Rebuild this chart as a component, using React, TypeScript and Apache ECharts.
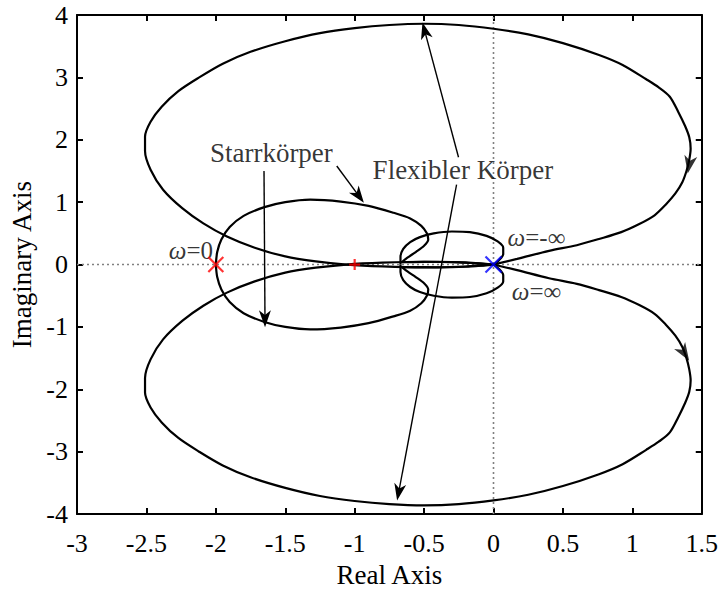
import React, { useEffect, useRef } from "react";
import * as echarts from "echarts";

// Axis ranges and tick steps
const xRange = [-3, 1.5];
const xStep = 0.5;
const yRange = [-4, 4];
const yStep = 1;

// Flexible body: large upper loop (origin -> right -> top -> left -> (-1,0) -> origin)
const flexUpper: [number, number][] = [
  [0, 0], [0.17, 0.09], [0.4, 0.22], [0.6, 0.31], [0.76, 0.41], [0.92, 0.52], [1.05, 0.65],
  [1.16, 0.79], [1.24, 0.96], [1.31, 1.14], [1.36, 1.32], [1.39, 1.5], [1.41, 1.68],
  [1.42, 1.86], [1.41, 2.04], [1.38, 2.22], [1.33, 2.45], [1.27, 2.69], [1.19, 2.84],
  [1.1, 2.97], [0.93, 3.2], [0.76, 3.36], [0.5, 3.55], [0.25, 3.69], [0, 3.78],
  [-0.25, 3.84], [-0.5, 3.86], [-0.75, 3.84], [-1.0, 3.79], [-1.25, 3.71], [-1.5, 3.58],
  [-1.75, 3.41], [-1.95, 3.22], [-2.12, 3.0], [-2.27, 2.78], [-2.39, 2.53], [-2.47, 2.29],
  [-2.51, 2.05], [-2.51, 1.82], [-2.47, 1.52], [-2.38, 1.2], [-2.24, 0.9], [-2.09, 0.66],
  [-1.92, 0.45], [-1.72, 0.27], [-1.5, 0.13], [-1.28, 0.05], [-1.06, 0.0], [-0.8, -0.03],
  [-0.5, -0.045], [-0.25, -0.035], [-0.08, -0.012], [0, 0],
];

// Flexible body: large lower loop
const flexLower: [number, number][] = [
  [0, 0], [0.17, -0.09], [0.4, -0.22], [0.6, -0.31], [0.76, -0.41], [0.92, -0.52], [1.05, -0.65],
  [1.16, -0.79], [1.24, -0.96], [1.31, -1.14], [1.36, -1.32], [1.39, -1.5], [1.41, -1.68],
  [1.42, -1.86], [1.41, -2.04], [1.38, -2.22], [1.33, -2.45], [1.27, -2.69], [1.19, -2.84],
  [1.1, -2.97], [0.93, -3.2], [0.76, -3.36], [0.5, -3.55], [0.25, -3.69], [0, -3.78],
  [-0.25, -3.84], [-0.5, -3.86], [-0.75, -3.84], [-1.0, -3.79], [-1.25, -3.71], [-1.5, -3.58],
  [-1.75, -3.41], [-1.95, -3.22], [-2.12, -3.0], [-2.27, -2.78], [-2.39, -2.53], [-2.47, -2.29],
  [-2.51, -2.05], [-2.51, -1.82], [-2.47, -1.52], [-2.38, -1.2], [-2.24, -0.9], [-2.09, -0.66],
  [-1.92, -0.45], [-1.72, -0.27], [-1.5, -0.13], [-1.28, -0.05], [-1.06, 0.0], [-0.8, 0.03],
  [-0.5, 0.045], [-0.25, 0.035], [-0.08, 0.012], [0, 0],
];

// Flexible body: small inner loop around the origin
const smallUpper: [number, number][] = [
  [-0.67, 0], [-0.67, 0.12], [-0.65, 0.25], [-0.6, 0.36], [-0.53, 0.44], [-0.43, 0.5],
  [-0.3, 0.53], [-0.17, 0.52], [-0.05, 0.46], [0.03, 0.37], [0.07, 0.27], [0.07, 0.17],
  [0.04, 0.07], [0, 0],
];
const smallLower: [number, number][] = [
  [-0.67, 0], [-0.67, -0.12], [-0.65, -0.25], [-0.6, -0.36], [-0.53, -0.44], [-0.43, -0.5],
  [-0.3, -0.53], [-0.17, -0.52], [-0.05, -0.46], [0.03, -0.37], [0.07, -0.27], [0.07, -0.17],
  [0.04, -0.07], [0, 0],
];

// Rigid body: from omega=0 at (-2,0) over the arc, curling in and running to the origin
const rigidUpper: [number, number][] = [
  [-2, 0], [-1.99, 0.2], [-1.96, 0.4], [-1.9, 0.6], [-1.8, 0.78], [-1.65, 0.92], [-1.5, 1.0],
  [-1.32, 1.04], [-1.1, 1.01], [-0.9, 0.94], [-0.72, 0.83], [-0.6, 0.74], [-0.52, 0.62],
  [-0.48, 0.5], [-0.47, 0.4], [-0.5, 0.3], [-0.56, 0.2], [-0.62, 0.11], [-0.66, 0.04],
  [-0.6, 0.04], [-0.4, 0.045], [-0.2, 0.035], [-0.06, 0.012], [0, 0],
];
const rigidLower: [number, number][] = [
  [-2, 0], [-1.99, -0.2], [-1.96, -0.4], [-1.9, -0.6], [-1.8, -0.78], [-1.65, -0.92], [-1.5, -1.0],
  [-1.32, -1.04], [-1.1, -1.01], [-0.9, -0.94], [-0.72, -0.83], [-0.6, -0.74], [-0.52, -0.62],
  [-0.48, -0.5], [-0.47, -0.4], [-0.5, -0.3], [-0.56, -0.2], [-0.62, -0.11], [-0.66, -0.04],
  [-0.6, -0.04], [-0.4, -0.045], [-0.2, -0.035], [-0.06, -0.012], [0, 0],
];

// Direction arrows on the loops: [x, y, rotation in degrees]
const directionArrows: [number, number, number][] = [
  [1.41, 1.6, 170],
  [1.375, -1.42, 212],
];

// Annotation texts: [text, x, y]
const annotationTexts: [string, number, number][] = [
  ["Starrkörper", -1.6, 1.79],
  ["Flexibler Körper", -0.22, 1.52],
];

// Annotation arrows: start and end points
const annotationArrows: [number, number][][] = [
  [[-1.653, 1.5], [-1.646, -0.87]],
  [[-1.129, 1.58], [-0.97, 1.1]],
  [[-0.252, 1.72], [-0.496, 3.75]],
  [[-0.266, 1.28], [-0.683, -3.65]],
];

// Frequency labels: [rich text, x, y, position]
const omegaLabels: [string, number, number, string][] = [
  ["{w|ω}=0", -2.02, 0.22, "left"],
  ["{w|ω}=-∞", 0.31, 0.44, "inside"],
  ["{w|ω}=∞", 0.31, -0.43, "inside"],
];

// Special points
const startPoint: [number, number] = [-2, 0];
const criticalPoint: [number, number] = [-1, 0];
const endPoint: [number, number] = [0, 0];

const FONT = "'Liberation Serif', 'Times New Roman', serif";

export default function App() {
  const ref = useRef<HTMLDivElement>(null);

  useEffect(() => {
    document.body.style.margin = "0";
    if (!ref.current) return;
    const chart = echarts.init(ref.current, undefined, { renderer: "svg" });

    const curve = (data: [number, number][], z = 3) => ({
      type: "line",
      data,
      showSymbol: false,
      smooth: 0.3,
      lineStyle: { color: "#000", width: 2.2 },
      z,
      silent: true,
    });

    const dotted = (data: [number, number][]) => ({
      type: "line",
      data,
      showSymbol: false,
      lineStyle: { color: "#808080", width: 1.6, type: [2, 3] },
      z: 1,
      silent: true,
    });

    const axisCommon = {
      axisLine: { onZero: false, lineStyle: { color: "#000", width: 2 } },
      axisTick: { inside: true, length: 6, lineStyle: { color: "#000", width: 2 } },
      splitLine: { show: false },
    };

    const tickStyle = { color: "#000", fontFamily: FONT, fontSize: 26 };
    const textStyle = { color: "#000", fontFamily: FONT, fontSize: 27 };

    chart.setOption({
      animation: false,
      backgroundColor: "#fff",
      grid: { left: 77, top: 15, right: 18, bottom: 72, containLabel: false },
      xAxis: [
        {
          type: "value",
          min: xRange[0],
          max: xRange[1],
          interval: xStep,
          position: "bottom",
          ...axisCommon,
          axisLabel: { ...tickStyle, margin: 16 },
          name: "Real Axis",
          nameLocation: "middle",
          nameGap: 44,
          nameTextStyle: { ...textStyle },
        },
        {
          type: "value",
          min: xRange[0],
          max: xRange[1],
          interval: xStep,
          position: "top",
          ...axisCommon,
          axisLabel: { show: false },
        },
      ],
      yAxis: [
        {
          type: "value",
          min: yRange[0],
          max: yRange[1],
          interval: yStep,
          position: "left",
          ...axisCommon,
          axisLabel: { ...tickStyle, margin: 9 },
          name: "Imaginary Axis",
          nameLocation: "middle",
          nameGap: 42,
          nameRotate: 90,
          nameTextStyle: { ...textStyle },
        },
        {
          type: "value",
          min: yRange[0],
          max: yRange[1],
          interval: yStep,
          position: "right",
          ...axisCommon,
          axisLabel: { show: false },
        },
      ],
      series: [
        dotted([[xRange[0], 0], [xRange[1], 0]]),
        dotted([[0, yRange[0]], [0, yRange[1]]]),
        curve(flexUpper),
        curve(flexLower),
        curve(smallUpper),
        curve(smallLower),
        curve(rigidUpper),
        curve(rigidLower),
        {
          type: "scatter",
          data: directionArrows.map(([x, y, r]) => ({ value: [x, y], symbolRotate: r })),
          symbol: "path://M0,0L7,18L0,13L-7,18Z",
          symbolSize: [13, 18],
          itemStyle: { color: "#000" },
          z: 4,
          silent: true,
        },
        {
          type: "lines",
          coordinateSystem: "cartesian2d",
          data: annotationArrows.map((c) => ({ coords: c })),
          symbol: ["none", "path://M0,0L7,18L0,13L-7,18Z"],
          symbolSize: [0, [12, 17]],
          lineStyle: { color: "#000", width: 1.4, opacity: 1, curveness: 0 },
          z: 4,
          silent: true,
        },
        {
          type: "scatter",
          data: annotationTexts.map(([t, x, y]) => ({
            value: [x, y],
            label: { formatter: t },
          })),
          symbolSize: 0,
          label: { show: true, position: "inside", ...textStyle },
          z: 6,
          silent: true,
        },
        {
          type: "scatter",
          data: omegaLabels.map(([t, x, y, pos]) => ({
            value: [x, y],
            label: { formatter: t, position: pos, distance: 0 },
          })),
          symbolSize: 0,
          label: {
            show: true,
            ...textStyle,
            fontSize: 25,
            rich: {
              w: { fontStyle: "italic", fontFamily: FONT, fontSize: 25, color: "#000" },
            },
          },
          z: 6,
          silent: true,
        },
        {
          type: "scatter",
          data: [startPoint],
          symbol: "path://M0,0L10,10M10,0L0,10",
          symbolSize: 15,
          itemStyle: { color: "transparent", borderColor: "#ff0000", borderWidth: 2.2 },
          z: 7,
          silent: true,
        },
        {
          type: "scatter",
          data: [criticalPoint],
          symbol: "path://M5,0L5,10M0,5L10,5",
          symbolSize: 11,
          itemStyle: { color: "transparent", borderColor: "#ff0000", borderWidth: 2.2 },
          z: 7,
          silent: true,
        },
        {
          type: "scatter",
          data: [endPoint],
          symbol: "path://M0,0L10,10M10,0L0,10",
          symbolSize: 16,
          itemStyle: { color: "transparent", borderColor: "#0000ff", borderWidth: 2.2 },
          z: 7,
          silent: true,
        },
      ],
    });

    return () => chart.dispose();
  }, []);

  return <div ref={ref} style={{ width: 721, height: 593 }} />;
}
